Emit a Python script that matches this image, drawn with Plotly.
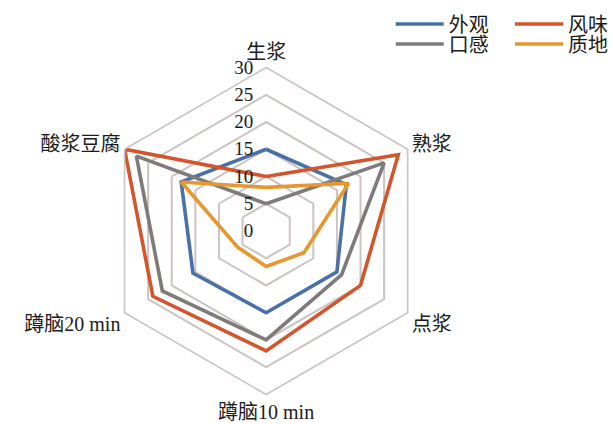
import plotly.graph_objects as go

# Processing stages around the radar, clockwise from the top
stages = ["生浆", "熟浆", "点浆", "蹲脑10 min", "蹲脑20 min", "酸浆豆腐"]

# Sensory scores per attribute at each stage
appearance = [15, 17, 15, 15, 15.5, 18]   # 外观
flavor = [10, 28, 20, 22, 24, 30]         # 风味
mouthfeel = [5, 25, 16, 20, 22, 27.5]     # 口感
texture = [8, 17.5, 8, 6.5, 6, 18]        # 质地

radial_ticks = [0, 5, 10, 15, 20, 25, 30]

series = [
    ("外观", appearance, "#4A70A8", "legend"),
    ("风味", flavor, "#D2552B", "legend2"),
    ("口感", mouthfeel, "#7F7B7B", "legend3"),
    ("质地", texture, "#E8962E", "legend4"),
]

W, H = 613, 424
cx, cy, R = 267, 231, 164

fig = go.Figure()
for name, vals, color, leg in series:
    fig.add_trace(go.Scatterpolar(
        r=vals + vals[:1],
        theta=stages + stages[:1],
        mode="lines",
        name=name,
        line=dict(color=color, width=3.6),
        legend=leg,
    ))

serif = "Liberation Serif, Noto Sans CJK SC"

legend_style = dict(
    orientation="v",
    xanchor="left",
    yanchor="middle",
    bgcolor="rgba(0,0,0,0)",
    font=dict(family=serif, size=20, color="#1a1a1a"),
    itemwidth=48,
    borderwidth=0,
)

def leg(xpx, ypx):
    d = dict(legend_style)
    d.update(x=xpx / W, y=1 - ypx / H)
    return d

fig.update_layout(
    width=W,
    height=H,
    margin=dict(l=0, r=0, t=0, b=0),
    paper_bgcolor="white",
    plot_bgcolor="white",
    showlegend=True,
    legend=leg(392, 24),
    legend2=leg(512, 24),
    legend3=leg(392, 44),
    legend4=leg(512, 44),
    polar=dict(
        domain=dict(
            x=[(cx - R) / W, (cx + R) / W],
            y=[(H - cy - R) / H, (H - cy + R) / H],
        ),
        bgcolor="white",
        gridshape="linear",
        radialaxis=dict(
            range=[0, 30],
            tickvals=radial_ticks,
            # trailing en space keeps the numbers clear of the ring vertices
            ticktext=[f"{v}\u2002" for v in radial_ticks],
            angle=90,
            side="counterclockwise",
            tickangle=90,
            showline=False,
            ticks="",
            showgrid=True,
            gridcolor="#CBC4C1",
            gridwidth=1.6,
            tickfont=dict(family=serif, size=19, color="#1a1a1a"),
        ),
        angularaxis=dict(
            rotation=90,
            direction="clockwise",
            categoryorder="array",
            categoryarray=stages,
            showgrid=False,
            showline=True,
            linecolor="#CBC4C1",
            linewidth=1.6,
            ticks="",
            tickfont=dict(family=serif, size=20, color="#1a1a1a"),
        ),
    ),
)

fig.write_html("out.html")
